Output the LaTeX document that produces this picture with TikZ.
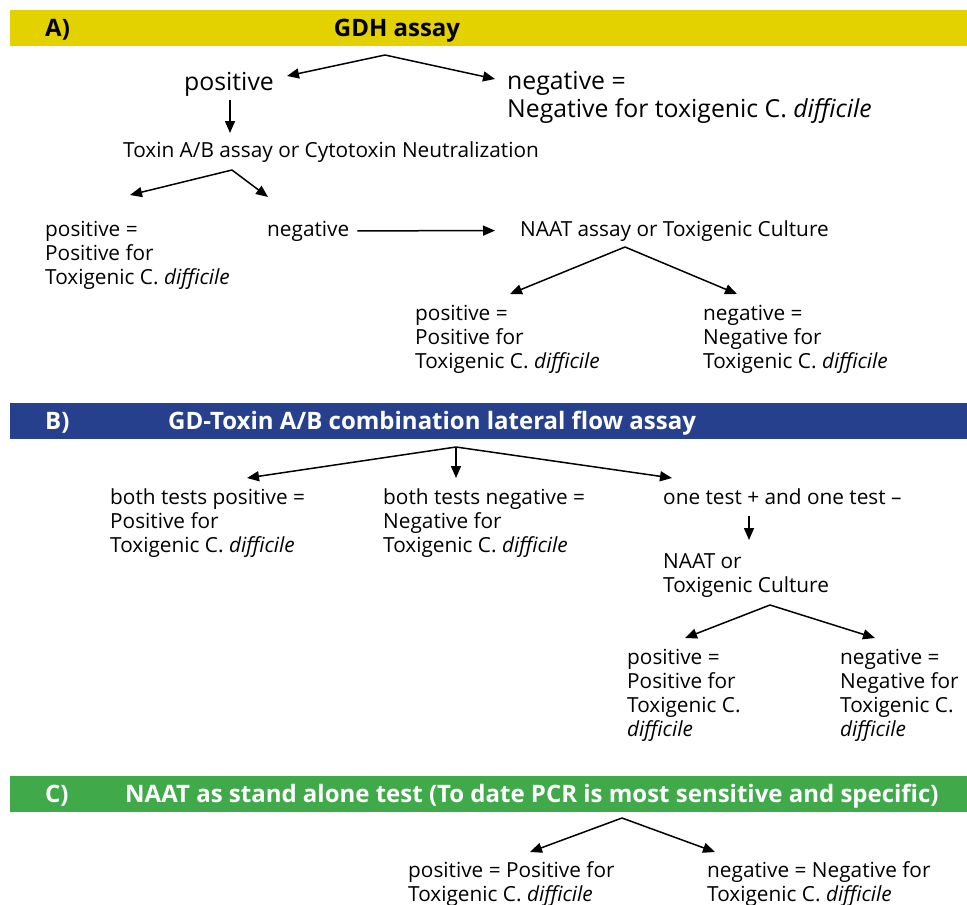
\documentclass[tikz,border=0pt]{standalone}
\usepackage{fontspec}
\setmainfont{Open Sans}
\usetikzlibrary{arrows.meta}
\definecolor{bandyellow}{RGB}{227,210,0}
\definecolor{bandblue}{RGB}{38,64,142}
\definecolor{bandgreen}{RGB}{64,170,74}
\newcommand{\diff}{\textit{difficile}}

\begin{document}
\begin{tikzpicture}[x=1pt,y=-1pt,
  band/.style={anchor=north west,minimum width=957pt,minimum height=36pt,inner sep=0pt},
  hdr/.style={font=\fontsize{24}{28}\selectfont\bfseries,anchor=base west,inner sep=0pt},
  txt/.style={font=\fontsize{20.8}{24}\selectfont,align=left,anchor=base west,inner sep=0pt},
  big/.style={font=\fontsize{24.8}{28}\selectfont,align=left,anchor=base west,inner sep=0pt},
  arr/.style={-{Triangle[length=12pt,width=10pt]},line width=1.5pt}]
\useasboundingbox (0,0) rectangle (967,905);

% A) GDH assay
\node[band,fill=bandyellow] (bandA) at (10,10) {};
\node[hdr] (labA) at (45,36.5) {A)};
\node[hdr,anchor=base] (gdh) at (397,36.5) {GDH assay};
\coordinate (splitA) at (385,55);
\node[big] (posA) at (184,90) {positive};
\node[big] (negA) at (507,117) {negative =\\Negative for toxigenic C. \diff};
\draw[arr] (splitA) -- ([shift={(103,-14)}]posA.base west);
\draw[arr] (splitA) -- ([shift={(-12,-38)}]negA.base west);
\node[txt] (toxA) at (123,157) {Toxin A/B assay or Cytotoxin Neutralization};
\draw[arr] ([shift={(46,10)}]posA.base west) -- ([shift={(107,-24)}]toxA.base west);
\coordinate (splitTox) at (232,170);
\node[txt] (posA2) at (45,284) {positive =\\Positive for\\Toxigenic C. \diff};
\node[txt] (negA2) at (267,236) {negative};
\draw[arr] (splitTox) -- ([shift={(85,-89)}]posA2.base west);
\draw[arr] (splitTox) -- ([shift={(1,-39)}]negA2.base west);
\node[txt] (naatA) at (520,236) {NAAT assay or Toxigenic Culture};
\draw[arr] ([xshift=8pt]negA2.east) -- ([xshift=-25pt]naatA.west);
\coordinate (splitNaat) at (625,247);
\node[txt] (posA3) at (415,368) {positive =\\Positive for\\Toxigenic C. \diff};
\node[txt] (negA3) at (703,368) {negative =\\Negative for\\Toxigenic C. \diff};
\draw[arr] (splitNaat) -- ([shift={(95,-74)}]posA3.base west);
\draw[arr] (splitNaat) -- ([shift={(34,-74)}]negA3.base west);

% B) lateral flow
\node[band,fill=bandblue] (bandB) at (10,403) {};
\node[hdr,text=white] (labB) at (45,429.5) {B)};
\node[hdr,text=white] (gdt) at (168,429.5) {GD-Toxin A/B combination lateral flow assay};
\coordinate (splitB) at (456,447);
\node[txt] (posB) at (110,552) {both tests positive =\\Positive for\\Toxigenic C. \diff};
\node[txt] (negB) at (383,552) {both tests negative =\\Negative for\\Toxigenic C. \diff};
\node[txt] (oneB) at (663,504) {one test + and one test –};
\draw[arr] (splitB) -- ([shift={(137,-74)}]posB.base west);
\draw[arr] (splitB) -- ([shift={(73,-74)}]negB.base west);
\draw[arr] (splitB) -- ([shift={(9,-26)}]oneB.base west);
\node[txt] (naatB) at (663,592) {NAAT or\\Toxigenic Culture};
\draw[arr] ([shift={(86,12)}]oneB.base west) -- ([shift={(86,-52)}]naatB.base west);
\coordinate (splitB2) at (770,605);
\node[txt] (posB2) at (627,736) {positive =\\Positive for\\Toxigenic C.\\\diff};
\node[txt] (negB2) at (840,736) {negative =\\Negative for\\Toxigenic C.\\\diff};
\draw[arr] (splitB2) -- ([shift={(58,-98)}]posB2.base west);
\draw[arr] (splitB2) -- ([shift={(35,-98)}]negB2.base west);

% C) NAAT alone
\node[band,fill=bandgreen] (bandC) at (10,776) {};
\node[hdr,text=white] (labC) at (45,802.5) {C)};
\node[hdr,text=white] (naatC) at (125,802.5) {NAAT as stand alone test (To date PCR is most sensitive and specific)};
\coordinate (splitC) at (622,818);
\node[txt] (posC) at (408,901) {positive = Positive for\\Toxigenic C. \diff};
\node[txt] (negC) at (707,901) {negative = Negative for\\Toxigenic C. \diff};
\draw[arr] (splitC) -- ([shift={(122,-49)}]posC.base west);
\draw[arr] (splitC) -- ([shift={(8,-49)}]negC.base west);
\end{tikzpicture}
\end{document}
